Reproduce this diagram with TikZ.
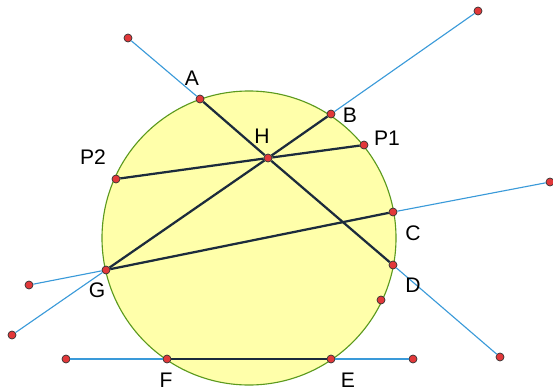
\documentclass[tikz,border=0pt]{standalone}
\usepackage{fontspec}
\setmainfont{Liberation Sans}
\definecolor{disc}{HTML}{FFFFAA}
\definecolor{rim}{HTML}{5C9A1E}
\definecolor{chord}{HTML}{1C2B3C}
\definecolor{ray}{HTML}{3A9AD9}
\definecolor{dot}{HTML}{E2383A}

\begin{document}
\begin{tikzpicture}[x=0.25mm,y=-0.25mm,
  pt/.style={circle,draw=black!80,fill=dot,line width=0.5pt,minimum size=2mm,inner sep=0},
  lbl/.style={font=\fontsize{15}{17}\selectfont,inner sep=0},
  chd/.style={chord,line width=1.6pt},
  ry/.style={ray,line width=0.8pt}]
\useasboundingbox (0,0) rectangle (553,391);
% the disc
\filldraw[fill=disc,draw=rim,line width=0.8pt] (249,238) circle (147);
% points on the circle and inside
\foreach \n/\x/\y in {A/200/99, B/331/114, P1/364/145, C/393/212, D/393/265,
  Q/381/300, E/331/359, F/167/359, G/106/270, P2/116/179, H/268/158}
  \node[pt] (\n) at (\x,\y) {};
% free ends of the rays
\foreach \n/\x/\y in {a/128/38, b/478/11, c/550/182, d/500/357,
  e/413/359, f/66/359, g/29/285, h/12/335}
  \node[pt] (\n) at (\x,\y) {};
% rays
\draw[ry] (a) -- (A);
\draw[ry] (D) -- (d);
\draw[ry] (B) -- (b);
\draw[ry] (G) -- (h);
\draw[ry] (C) -- (c);
\draw[ry] (G) -- (g);
\draw[ry] (f) -- (F);
\draw[ry] (E) -- (e);
% chords
\draw[chd] (A) -- (H) -- (D);
\draw[chd] (G) -- (H) -- (B);
\draw[chd] (P2) -- (H) -- (P1);
\draw[chd] (G) -- (C);
\draw[chd] (F) -- (E);
% labels
\foreach \n/\x/\y in {A/192/78, H/262/136, B/350/115, P1/387/138, P2/93/157,
  C/413/233, D/413/285, G/97/290, F/166/380, E/348/380}
  \node[lbl] (l\n) at (\x,\y) {\n};
\end{tikzpicture}
\end{document}
